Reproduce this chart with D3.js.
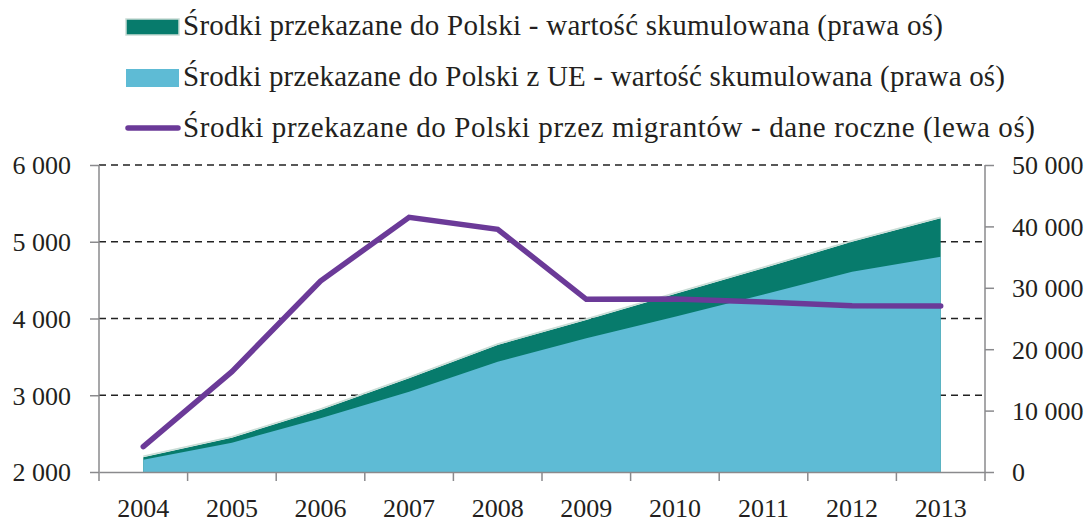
<!DOCTYPE html>
<html><head><meta charset="utf-8">
<script src="https://cdn.jsdelivr.net/npm/d3@7"></script>
<style>
html,body{margin:0;padding:0;background:#fff;}
svg{display:block;}
text{font-family:"Liberation Serif","DejaVu Serif",serif;fill:#231f20;}
</style></head>
<body>
<svg id="chart" width="1087" height="522"></svg>
<script>
const years = ["2004","2005","2006","2007","2008","2009","2010","2011","2012","2013"];
const migrants = [2330, 3307, 4489, 5318, 5162, 4250, 4254, 4215, 4167, 4163];
const totalCum = [2400, 5590, 10100, 15260, 20680, 24760, 29000, 33170, 37500, 41320];
const ueCum = [2000, 4770, 8750, 13080, 17970, 21800, 25300, 28900, 32600, 35060];
const leftTicks = [2000, 3000, 4000, 5000, 6000];
const rightTicks = [0, 10000, 20000, 30000, 40000, 50000];
const legendLabels = [
  "Środki przekazane do Polski - wartość skumulowana (prawa oś)",
  "Środki przekazane do Polski z UE - wartość skumulowana (prawa oś)",
  "Środki przekazane do Polski przez migrantów - dane roczne (lewa oś)"
];

const colTeal = "#077b6c", colBlue = "#5ebbd5", colPurple = "#6b3a98", axisCol = "#8a8a8d";
const FONT = '"Liberation Serif","DejaVu Serif",serif';
const svg = d3.select("#chart");
const L = 99, R = 985, T = 165, B = 472;

const x = d3.scaleBand().domain(years).range([L, R]).padding(0);
const cx = d => x(d) + x.bandwidth() / 2;
const yL = d3.scaleLinear().domain([2000, 6000]).range([B, T]);
const yR = d3.scaleLinear().domain([0, 50000]).range([B, T]);

// gridlines
svg.append("g").selectAll("line").data(leftTicks.filter(v => v > 2000)).join("line")
  .attr("x1", L).attr("x2", R).attr("y1", d => yL(d)).attr("y2", d => yL(d))
  .attr("stroke", "#222").attr("stroke-width", 1.7).attr("stroke-dasharray", "7,5");

// areas
const areaTotal = d3.area().x((d, i) => cx(years[i])).y0(B).y1(d => yR(d));
svg.append("path").datum(totalCum).attr("d", areaTotal).attr("fill", colTeal);
svg.append("path").datum(totalCum)
  .attr("d", d3.line().x((d, i) => cx(years[i])).y(d => yR(d) - 1))
  .attr("fill", "none").attr("stroke", "#c9dcd5").attr("stroke-width", 1.6);
svg.append("path").datum(ueCum).attr("d", areaTotal).attr("fill", colBlue);

// axes
const fmt = d => d3.format(",")(d).replace(",", " ");
const gLeft = svg.append("g").attr("transform", `translate(${L},0)`)
  .call(d3.axisLeft(yL).tickValues(leftTicks).tickSize(9).tickFormat(fmt));
const gRight = svg.append("g").attr("transform", `translate(${R},0)`)
  .call(d3.axisRight(yR).tickValues(rightTicks).tickSize(9).tickFormat(fmt));
const gBottom = svg.append("g").attr("transform", `translate(0,${B})`)
  .call(d3.axisBottom(x).tickSize(0).tickFormat(d => d));
// band boundary ticks
svg.append("g").selectAll("line").data(years.concat(["end"])).join("line")
  .attr("x1", (d, i) => L + i * x.bandwidth()).attr("x2", (d, i) => L + i * x.bandwidth())
  .attr("y1", B).attr("y2", B + 9).attr("stroke", axisCol).attr("stroke-width", 1.5);

[gLeft, gRight, gBottom].forEach(g => {
  g.attr("font-family", FONT);
  g.selectAll(".domain").attr("stroke", axisCol).attr("stroke-width", 1.5);
  g.selectAll(".tick line").attr("stroke", axisCol).attr("stroke-width", 1.5);
  g.selectAll("text").attr("font-size", 26).attr("font-family", FONT).attr("fill", "#231f20");
});
gLeft.select(".domain").attr("d", `M0,${T}V${B}`);
gRight.select(".domain").attr("d", `M0,${T}V${B}`);
gLeft.selectAll("text").attr("x", -28).attr("dy", "0.34em");
gRight.selectAll("text").attr("x", 27).attr("dy", "0.34em");
gBottom.selectAll("text").attr("y", 0).attr("dy", 45);

// migrants line
svg.append("path").datum(migrants)
  .attr("d", d3.line().x((d, i) => cx(years[i])).y(d => yL(d)))
  .attr("fill", "none").attr("stroke", colPurple).attr("stroke-width", 5.5)
  .attr("stroke-linecap", "round").attr("stroke-linejoin", "miter");

// legend
const lg = svg.append("g");
const rowsY = [35, 86, 137];
const rowsW = [760, 822, 852];
lg.append("rect").attr("x", 126).attr("y", 19).attr("width", 53).attr("height", 16)
  .attr("fill", colTeal).attr("stroke", "#c9dcd5").attr("stroke-width", 1.5);
lg.append("rect").attr("x", 126).attr("y", 69).attr("width", 53).attr("height", 18).attr("fill", colBlue);
lg.append("line").attr("x1", 128).attr("x2", 178).attr("y1", 128).attr("y2", 128)
  .attr("stroke", colPurple).attr("stroke-width", 5.5).attr("stroke-linecap", "round");
lg.selectAll("text.lab").data(legendLabels).join("text").attr("class", "lab")
  .attr("x", 183).attr("y", (d, i) => rowsY[i]).attr("font-size", 29)
  .attr("font-family", FONT)
  .attr("textLength", (d, i) => rowsW[i]).attr("lengthAdjust", "spacing")
  .text(d => d);
</script>
</body></html>
